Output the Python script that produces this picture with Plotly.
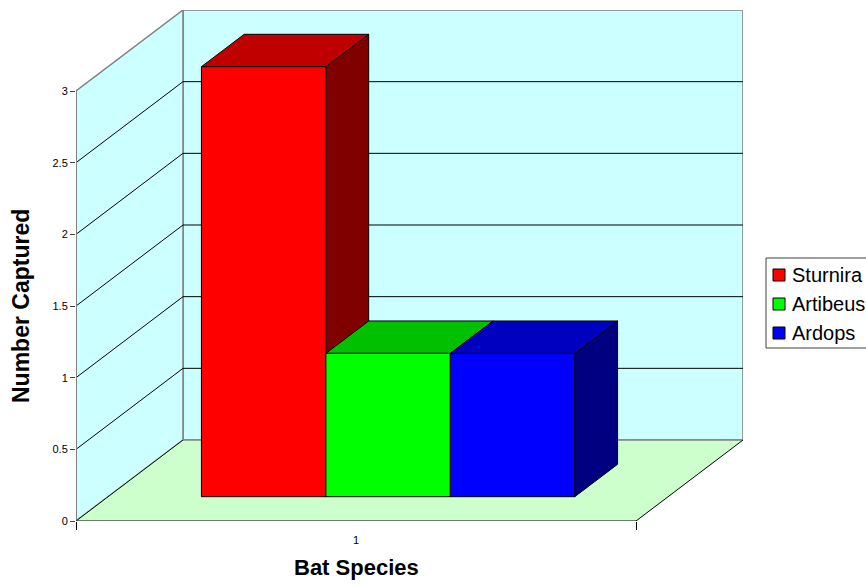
import plotly.graph_objects as go

# ---- data ----
categories = ["1"]
series_names = ["Sturnira", "Artibeus", "Ardops"]
series_values = [3, 1, 1]
front_colors = ["#FF0000", "#00FF00", "#0000FF"]
top_colors = ["#C00000", "#00C000", "#0000C0"]
side_colors = ["#800000", "#008000", "#000080"]
y_ticks = [0, 0.5, 1, 1.5, 2, 2.5, 3]
y_tick_labels = ["0", "0.5", "1", "1.5", "2", "2.5", "3"]

# ---- page geometry (pixels) ----
W, H = 866, 586
M_L, M_R, M_T, M_B = 76, 123, 10, 65
FRONT_PX = 560          # length of the front category axis
DEPTH_PX = (107, 81)    # oblique shift from front plane to back wall
GAP_WIDTH = 1.5         # gap between clusters, in bar widths
GAP_DEPTH = 1.5         # gap in front/behind the bars, in bar depths

plot_w = W - M_L - M_R
plot_h = H - M_T - M_B
Y_MAX = max(y_ticks)
X_RANGE = plot_w / FRONT_PX
DX = DEPTH_PX[0] / FRONT_PX
y_unit_px = (plot_h - DEPTH_PX[1]) / Y_MAX
DY = DEPTH_PX[1] / y_unit_px
Y_RANGE = Y_MAX + DY


def px(x):
    return (x - M_L) / plot_w


def py(y):
    return (M_T + plot_h - y) / plot_h


def proj(x, y, d):
    """Oblique projection: depth d in [0, 1] from front plane to back wall."""
    return x + d * DX, y + d * DY


fig = go.Figure()


def poly(points, fill=None, line_color="black", width=1, closed=True):
    xs = [p[0] for p in points]
    ys = [p[1] for p in points]
    if closed:
        xs.append(xs[0])
        ys.append(ys[0])
    fig.add_trace(go.Scatter(
        x=xs, y=ys, mode="lines",
        fill="toself" if fill else None,
        fillcolor=fill,
        line=dict(color=line_color, width=width),
        hoverinfo="skip", showlegend=False,
    ))


WALL = "#CCFFFF"
FLOOR = "#CCFFCC"
EDGE = "#808080"

# back wall and side wall
poly([proj(0, 0, 1), proj(1, 0, 1), proj(1, Y_MAX, 1), proj(0, Y_MAX, 1)],
     fill=WALL, line_color=EDGE, width=1.5)
poly([(0, 0), proj(0, 0, 1), proj(0, Y_MAX, 1), (0, Y_MAX)],
     fill=WALL, line_color=EDGE, width=1.5)
# floor
poly([(0, 0), (1, 0), proj(1, 0, 1), proj(0, 0, 1)],
     fill=FLOOR, line_color=FLOOR, width=0.5)
poly([proj(0, 0, 1), proj(1, 0, 1)], line_color=EDGE, width=1.5, closed=False)
poly([(0, 0), proj(0, 0, 1)], line_color="black", width=1, closed=False)
poly([(1, 0), proj(1, 0, 1)], line_color="black", width=1, closed=False)

# gridlines across side wall and back wall
for v in y_ticks[1:-1]:
    poly([(0, v), proj(0, v, 1), proj(1, v, 1)],
         line_color="black", width=1, closed=False)

# front edges: value axis and category axis
poly([(0, 0), (0, Y_MAX)], line_color=EDGE, width=2, closed=False)
poly([(0, 0), (1, 0)], line_color="black", width=1, closed=False)

# 3-D bars
n = len(series_names)
bar_w = 1.0 / (n + GAP_WIDTH)
bar_d = 1.0 / (1 + GAP_DEPTH)
f1 = GAP_DEPTH / 2 * bar_d
f2 = f1 + bar_d
for ci, cat in enumerate(categories):
    for si in range(n):
        v = series_values[si]
        x0 = ci + (GAP_WIDTH / 2 + si) * bar_w
        x1 = x0 + bar_w
        poly([proj(x1, 0, f1), proj(x1, 0, f2), proj(x1, v, f2), proj(x1, v, f1)],
             fill=side_colors[si])
        poly([proj(x0, v, f1), proj(x1, v, f1), proj(x1, v, f2), proj(x0, v, f2)],
             fill=top_colors[si])
        poly([proj(x0, 0, f1), proj(x1, 0, f1), proj(x1, v, f1), proj(x0, v, f1)],
             fill=front_colors[si])

FONT = "Liberation Sans, Arial, sans-serif"

shapes = []
annotations = []

# legend box
LEG_X0, LEG_X1, LEG_Y0, LEG_Y1 = 766, 880, 258, 348
shapes.append(dict(type="rect", xref="paper", yref="paper",
                   x0=px(LEG_X0), x1=px(LEG_X1), y0=py(LEG_Y0), y1=py(LEG_Y1),
                   line=dict(color="#404040", width=1), fillcolor="white", layer="above"))
for si, name in enumerate(series_names):
    cy = 275 + 29 * si
    shapes.append(dict(type="rect", xref="paper", yref="paper",
                       x0=px(773), x1=px(785), y0=py(cy - 6), y1=py(cy + 6),
                       line=dict(color="black", width=1), fillcolor=front_colors[si],
                       layer="above"))
    annotations.append(dict(text=name, xref="paper", yref="paper",
                            x=px(790), y=py(cy), xanchor="left", yanchor="middle",
                            showarrow=False, font=dict(family=FONT, size=20, color="black")))

# axis titles
annotations.append(dict(text="<b>Bat Species</b>", xref="x", yref="paper",
                        x=0.5, y=py(567), xanchor="center", yanchor="middle",
                        showarrow=False, font=dict(family=FONT, size=22, color="black")))
annotations.append(dict(text="<b>Number Captured</b>", xref="paper", yref="paper",
                        x=px(21), y=py(306), xanchor="center", yanchor="middle",
                        textangle=-90, showarrow=False,
                        font=dict(family=FONT, size=23, color="black")))

fig.update_layout(
    width=W, height=H,
    margin=dict(l=M_L, r=M_R, t=M_T, b=M_B, pad=0),
    paper_bgcolor="white", plot_bgcolor="white",
    showlegend=False, hovermode=False,
    shapes=shapes, annotations=annotations,
    font=dict(family=FONT, size=11, color="black"),
    xaxis=dict(
        range=[0, X_RANGE], showgrid=False, zeroline=False, showline=False,
        tickmode="array", tickvals=[0.5], ticktext=categories,
        ticks="outside", ticklen=9, tickcolor="rgba(0,0,0,0)",
        tickfont=dict(family=FONT, size=11, color="black"),
        minor=dict(tickvals=[0, 1], ticks="outside", ticklen=8,
                   tickcolor="black", tickwidth=1),
        fixedrange=True,
    ),
    yaxis=dict(
        range=[0, Y_RANGE], showgrid=False, zeroline=False, showline=False,
        tickmode="array", tickvals=y_ticks, ticktext=y_tick_labels,
        ticks="outside", ticklen=5, tickcolor="#404040", tickwidth=1,
        tickfont=dict(family=FONT, size=11, color="black"),
        fixedrange=True,
    ),
)

fig.write_html("out.html")
